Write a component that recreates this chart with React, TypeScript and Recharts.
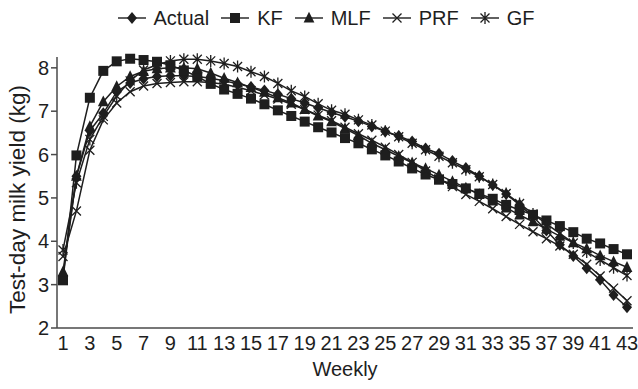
import React from 'react';
import { LineChart, Line, XAxis, YAxis, Legend } from 'recharts';

const weeks = [1, 2, 3, 4, 5, 6, 7, 8, 9, 10, 11, 12, 13, 14, 15, 16, 17, 18, 19, 20, 21, 22, 23, 24, 25, 26, 27, 28, 29, 30, 31, 32, 33, 34, 35, 36, 37, 38, 39, 40, 41, 42, 43];

const actual = [3.2, 5.5, 6.55, 6.95, 7.45, 7.65, 7.75, 7.8, 7.82, 7.82, 7.8, 7.76, 7.7, 7.63, 7.56, 7.48, 7.39, 7.29, 7.19, 7.08, 6.97, 6.87, 6.77, 6.65, 6.53, 6.43, 6.3, 6.14, 6.02, 5.85, 5.69, 5.5, 5.3, 5.09, 4.84, 4.57, 4.25, 3.92, 3.66, 3.38, 3.11, 2.76, 2.48];
const kf = [3.1, 5.98, 7.31, 7.93, 8.15, 8.21, 8.18, 8.14, 8.06, 7.94, 7.8, 7.63, 7.5, 7.4, 7.29, 7.16, 7.02, 6.89, 6.76, 6.63, 6.51, 6.38, 6.26, 6.12, 5.98, 5.84, 5.68, 5.54, 5.42, 5.32, 5.22, 5.1, 4.98, 4.84, 4.72, 4.61, 4.48, 4.35, 4.21, 4.06, 3.95, 3.82, 3.7];
const mlf = [3.3, 5.5, 6.65, 7.22, 7.57, 7.8, 7.92, 7.98, 8.0, 8.0, 7.98, 7.88, 7.76, 7.66, 7.55, 7.44, 7.31, 7.19, 7.04, 6.89, 6.76, 6.6, 6.44, 6.26, 6.11, 5.96, 5.81, 5.68, 5.53, 5.38, 5.23, 5.08, 4.93, 4.77, 4.61, 4.45, 4.28, 4.12, 3.97, 3.83, 3.67, 3.53, 3.4];
const prf = [3.65, 4.7, 6.1, 6.8, 7.19, 7.45, 7.58, 7.64, 7.66, 7.68, 7.68, 7.66, 7.62, 7.55, 7.47, 7.38, 7.28, 7.16, 7.04, 6.91, 6.78, 6.63, 6.48, 6.33, 6.17, 6.0, 5.82, 5.62, 5.44, 5.26, 5.08, 4.92, 4.75, 4.57, 4.39, 4.22, 4.06, 3.89, 3.7, 3.47, 3.2, 2.92, 2.63];
const gf = [3.8, 5.35, 6.35, 6.88, 7.35, 7.7, 7.95, 8.07, 8.16, 8.2, 8.2, 8.16, 8.1, 8.03, 7.91, 7.8, 7.64, 7.47, 7.34, 7.17, 7.02, 6.93, 6.8, 6.68, 6.54, 6.41, 6.26, 6.11, 5.96, 5.81, 5.65, 5.49, 5.31, 5.1, 4.87, 4.63, 4.4, 4.18, 3.96, 3.75, 3.57, 3.39, 3.21];

const seriesNames = ['Actual', 'KF', 'MLF', 'PRF', 'GF'];
const xTicks = [1, 3, 5, 7, 9, 11, 13, 15, 17, 19, 21, 23, 25, 27, 29, 31, 33, 35, 37, 39, 41, 43];
const yTicks = [2, 3, 4, 5, 6, 7, 8];

const data = weeks.map((w, i) => ({
  week: w,
  Actual: actual[i],
  KF: kf[i],
  MLF: mlf[i],
  PRF: prf[i],
  GF: gf[i],
}));

const INK = '#1e1e1e';
const AXIS = '#4a4a4a';
const FONT = '"Liberation Sans", Arial, Helvetica, sans-serif';

type Shape = 'diamond' | 'square' | 'triangle' | 'cross' | 'star';

function markerPath(shape: Shape, cx: number, cy: number): React.ReactElement {
  switch (shape) {
    case 'diamond':
      return <path d={`M${cx},${cy - 6}L${cx + 5},${cy}L${cx},${cy + 6}L${cx - 5},${cy}Z`} fill={INK} stroke="none" />;
    case 'square':
      return <rect x={cx - 5} y={cy - 5} width={10} height={10} fill={INK} stroke="none" />;
    case 'triangle':
      return <path d={`M${cx},${cy - 6.2}L${cx + 5.4},${cy + 4.6}L${cx - 5.4},${cy + 4.6}Z`} fill={INK} stroke="none" />;
    case 'cross':
      return (
        <path d={`M${cx - 4.5},${cy - 4.5}L${cx + 4.5},${cy + 4.5}M${cx - 4.5},${cy + 4.5}L${cx + 4.5},${cy - 4.5}`} stroke={INK} strokeWidth={1.3} fill="none" />
      );
    case 'star':
    default:
      return (
        <path d={`M${cx - 4.5},${cy - 4.5}L${cx + 4.5},${cy + 4.5}M${cx - 4.5},${cy + 4.5}L${cx + 4.5},${cy - 4.5}M${cx},${cy - 6}L${cx},${cy + 6}`} stroke={INK} strokeWidth={1.3} fill="none" />
      );
  }
}

const shapes: Record<string, Shape> = {
  Actual: 'diamond',
  KF: 'square',
  MLF: 'triangle',
  PRF: 'cross',
  GF: 'star',
};

function makeDot(shape: Shape) {
  return (props: any) => {
    const { cx, cy, index } = props;
    if (cx == null || cy == null) return <g key={`e-${index}`} />;
    return <g key={`${shape}-${index}`}>{markerPath(shape, cx, cy)}</g>;
  };
}

function LegendContent() {
  return (
    <div
      style={{
        display: 'flex',
        justifyContent: 'center',
        alignItems: 'center',
        height: 28,
        paddingLeft: 14,
        fontFamily: FONT,
        fontSize: 20,
        color: INK,
      }}
    >
      {seriesNames.map((name, i) => (
        <div key={name} style={{ display: 'flex', alignItems: 'center', marginLeft: i === 0 ? 0 : 12 }}>
          <svg width={28} height={20} style={{ marginRight: 8 }}>
            <line x1={0} y1={10} x2={28} y2={10} stroke={INK} strokeWidth={1.4} />
            {markerPath(shapes[name], 14, 10)}
          </svg>
          <span style={{ lineHeight: '20px' }}>{name}</span>
        </div>
      ))}
    </div>
  );
}

function YLabel(props: any) {
  const vb = props.viewBox || { x: 0, y: 0, width: 0, height: 0 };
  const cx = vb.x + 17;
  const cy = vb.y + vb.height / 2 + 7;
  return (
    <text
      x={cx}
      y={cy}
      transform={`rotate(-90 ${cx} ${cy})`}
      textAnchor="middle"
      dominantBaseline="central"
      fontFamily={FONT}
      fontSize={22.5}
      fill={INK}
    >
      Test-day milk yield (kg)
    </text>
  );
}

export default function App() {
  return (
    <div style={{ position: 'absolute', left: 0, top: 0, width: 638, height: 389, background: '#fff' }}>
      <LineChart width={638} height={389} data={data} margin={{ top: 29, right: 5, left: 0, bottom: 0 }}>
        <Legend verticalAlign="top" content={<LegendContent />} wrapperStyle={{ top: 4, left: 0, width: 638, height: 28 }} />
        <XAxis
          dataKey="week"
          type="number"
          domain={[1, 43]}
          ticks={xTicks}
          interval={0}
          padding={{ left: 6, right: 6 }}
          tickLine={false}
          axisLine={{ stroke: AXIS, strokeWidth: 1.5 }}
          tick={{ fill: INK, fontSize: 20, fontFamily: FONT }}
          height={61}
          label={{ value: 'Weekly', position: 'insideBottom', offset: 13, fill: INK, fontSize: 20, fontFamily: FONT }}
        />
        <YAxis
          type="number"
          domain={[2, 8.25]}
          ticks={yTicks}
          interval={0}
          width={57}
          tickSize={6}
          tickLine={{ stroke: AXIS, strokeWidth: 1.5 }}
          axisLine={{ stroke: AXIS, strokeWidth: 1.5 }}
          tick={{ fill: INK, fontSize: 20, fontFamily: FONT }}
          label={<YLabel />}
        />
        {seriesNames.map((name) => (
          <Line
            key={name}
            type="linear"
            dataKey={name}
            stroke={INK}
            strokeWidth={1.5}
            dot={makeDot(shapes[name])}
            activeDot={false}
            isAnimationActive={false}
          />
        ))}
      </LineChart>
    </div>
  );
}
